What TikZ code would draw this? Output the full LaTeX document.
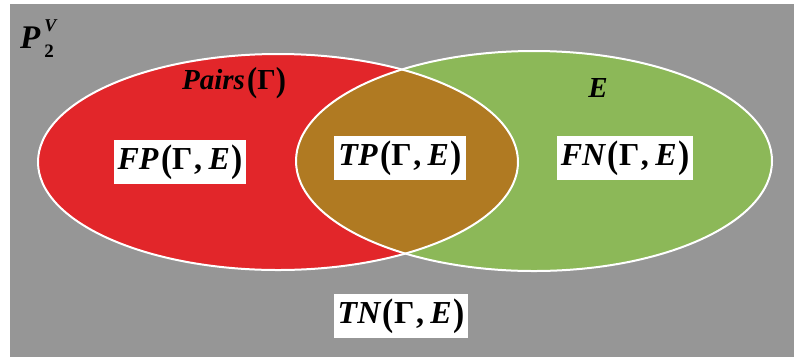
\documentclass[tikz,border=0pt]{standalone}
\usepackage{fontspec}
\setmainfont{Liberation Serif}
\definecolor{bggray}{RGB}{150,150,150}
\definecolor{setred}{RGB}{226,38,42}
\definecolor{setgreen}{RGB}{140,184,88}
\definecolor{setbrown}{RGB}{176,122,34}
\newcommand{\bi}[1]{{\bfseries\itshape #1}}
\newcommand{\bu}[1]{{\bfseries #1}}
% tall parentheses, as in a typeset formula
\newcommand{\lparen}{\kern0.08em\raisebox{-0.06em}{\scalebox{1.05}[1.2]{\bu{(}}}}
\newcommand{\rparen}{\raisebox{-0.06em}{\scalebox{1.05}[1.2]{\bu{)}}}}
\newcommand{\pairlabel}[1]{\bi{#1}\lparen\bu{Γ\kern0.05em,\kern0.2em}\bi{E}\kern0.04em\rparen}
\begin{document}
\begin{tikzpicture}[x=1pt,y=-1pt,
  setlabel/.style={fill=white,inner xsep=4pt,inner ysep=5pt,font=\fontsize{32}{34}\selectfont},
  settitle/.style={font=\fontsize{29}{32}\selectfont},
  outline/.style={draw=white,line width=2pt}]
\useasboundingbox (0,0) rectangle (794,360);
% background: the universe of vertex pairs
\fill[bggray] (10,4) rectangle (794,357);
% the two sets and their overlap
\fill[setred] (278,162) ellipse [x radius=240, y radius=108];
\fill[setgreen] (534,161) ellipse [x radius=238, y radius=110];
\begin{scope}
  \clip (278,162) ellipse [x radius=240, y radius=108];
  \fill[setbrown] (534,161) ellipse [x radius=238, y radius=110];
\end{scope}
\draw[outline] (278,162) ellipse [x radius=240, y radius=108];
\draw[outline] (534,161) ellipse [x radius=238, y radius=110];
% labels
\node[font=\fontsize{33}{36}\selectfont, inner sep=0pt, anchor=base west] (univ) at (20,48)
  {\bi{P}\kern0.12em\rlap{\raisebox{17pt}{\fontsize{18}{18}\selectfont\bi{V}}}%
   \raisebox{-9pt}{\fontsize{19}{19}\selectfont\bu{2}}};
\node[settitle] (pairs) at (234,83) {\bi{Pairs}\lparen\bu{Γ}\rparen};
\node[settitle] (edges) at (598,88) {\bi{E}};
\node[setlabel] (fp) at (180,162) {\pairlabel{FP}};
\node[setlabel] (tp) at (400,158) {\pairlabel{TP}};
\node[setlabel] (fn) at (625,158) {\pairlabel{FN}};
\node[setlabel] (tn) at (401,316) {\pairlabel{TN}};
\end{tikzpicture}
\end{document}
